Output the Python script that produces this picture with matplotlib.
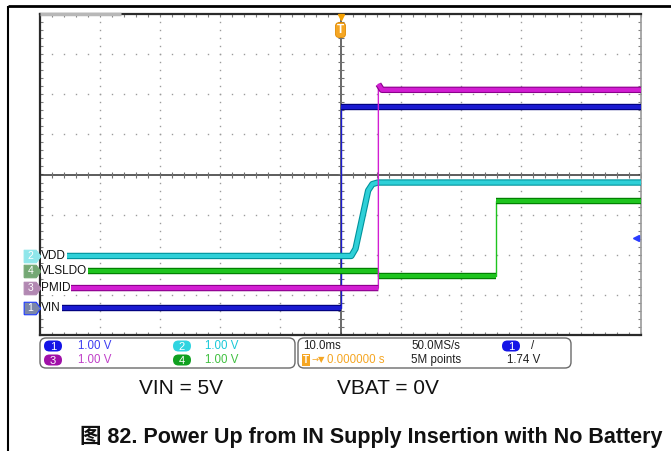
import numpy as np
import matplotlib
matplotlib.use("Agg")
import matplotlib.pyplot as plt
from matplotlib import transforms
from matplotlib.patches import FancyBboxPatch

plt.rcParams['font.family'] = ['Liberation Sans', 'Noto Sans CJK SC', 'DejaVu Sans']

# Scope setup: 10 ms/div horizontally, 1 V/div vertically, levels in divisions
time_range = (-50, 50)   # ms
div_range = (-4, 4)

# Traces (time in ms, level in divisions from screen centre)
t_vin = [-46.3, 0.0, 0.0, 50.0]
v_vin = [-3.33, -3.33, 1.68, 1.68]

t_pmid = [-45.3, 6.3, 6.3, 6.9, 50.0]
v_pmid = [-2.83, -2.83, 2.25, 2.11, 2.11]

t_vdd = [-46.3, 1.8, 2.5, 4.6, 5.3, 6.2, 50.0]
v_vdd = [-2.03, -2.03, -1.85, -0.40, -0.24, -0.20, -0.20]

t_vlsldo = [-43.5, 6.3, 6.3, 25.8, 25.8, 50.0]
v_vlsldo = [-2.40, -2.40, -2.53, -2.53, -0.66, -0.66]

channels = ['1', '2', '3', '4']
ch_labels = ['VIN', 'VDD', 'PMID', 'VLSLDO']
ch_scale = ['1.00 V', '1.00 V', '1.00 V', '1.00 V']
trig_level = 1.74  # V on ch1

colors = {'1': ('#1a1ad0', '#00007a'), '2': ('#2fd0d8', '#00939c'),
          '3': ('#d21ed2', '#8c008c'), '4': ('#1ec41e', '#007a00')}

fig = plt.figure(figsize=(6.71, 4.51), dpi=100)

# overlay in pixel coordinates
ov = fig.add_axes([0, 0, 1, 1])
ov.set_xlim(0, 671)
ov.set_ylim(451, 0)
ov.axis('off')

ax = fig.add_axes([40 / 671, 1 - 335 / 451, 601 / 671, 321 / 451])
ax.set_xlim(*time_range)
ax.set_ylim(*div_range)

# graticule dots
gcol = '#9c9c9c'
for xm in np.arange(-40, 41, 10):
    if xm == 0:
        continue
    yy = np.arange(-4, 4.01, 0.2)
    ax.plot(np.full_like(yy, xm), yy, ls='none', marker='s', ms=1.0, mew=0, color=gcol, zorder=1)
for ym in np.arange(-3, 4, 1):
    if ym == 0:
        continue
    xx = np.arange(-50, 50.01, 2)
    ax.plot(xx, np.full_like(xx, ym), ls='none', marker='s', ms=1.0, mew=0, color=gcol, zorder=1)

# centre axes with tick marks
ax.axhline(0, color='#303030', lw=1.1, zorder=2)
ax.axvline(0, color='#404040', lw=1.1, zorder=2)
xx = np.arange(-50, 50.01, 2)
ax.plot(xx, np.zeros_like(xx), ls='none', marker='|', ms=4, mew=0.8, color='#707070', zorder=2)
yy = np.arange(-4, 4.01, 0.2)
ax.plot(np.zeros_like(yy), yy, ls='none', marker='_', ms=4, mew=0.8, color='#707070', zorder=2)

# frame ticks
ax.set_xticks(np.arange(-50, 50.01, 2))
ax.set_yticks(np.arange(-4, 4.01, 0.2))
ax.tick_params(direction='in', length=2.5, width=0.8, color='#808080',
               top=True, right=True, labelbottom=False, labelleft=False)
for side in ['left', 'bottom', 'top']:
    ax.spines[side].set_color('#2a2a2a')
    ax.spines[side].set_linewidth(1.6)
ax.spines['right'].set_color('#9a9a9a')
ax.spines['right'].set_linewidth(1.2)
# record view bar at top-left
ax.plot([0, 0.135], [1, 1], transform=ax.transAxes, color='#b8b8b8', lw=2.5,
        clip_on=False, zorder=6, solid_capstyle='butt')


def draw_trace(t, v, ch, z):
    color, edge = colors[ch]
    t = np.asarray(t, float)
    v = np.asarray(v, float)
    ax.plot(t, v, color=color, lw=1.0, zorder=z)
    tt, vv = [], []
    for i in range(len(t)):
        tt.append(t[i])
        vv.append(v[i])
        if i < len(t) - 1 and t[i + 1] == t[i]:
            tt.append(np.nan)
            vv.append(np.nan)
    ax.plot(tt, vv, color=edge, lw=4.6, zorder=z + 0.1, solid_capstyle='butt')
    ax.plot(tt, vv, color=color, lw=3.0, zorder=z + 0.2, solid_capstyle='butt')


draw_trace(t_vin, v_vin, '1', 4)
draw_trace(t_vlsldo, v_vlsldo, '4', 5)
draw_trace(t_vdd, v_vdd, '2', 6)
draw_trace(t_pmid, v_pmid, '3', 7)

# channel markers and labels at left
blend = transforms.blended_transform_factory(ax.transAxes, ax.transData)
marker_verts = [(-1, -0.75), (0.45, -0.75), (1, 0), (0.45, 0.75), (-1, 0.75), (-1, -0.75)]
marker_fill = {'1': ('#7b86a8', '#1f3cff'), '2': ('#8fe6ea', '#8fe6ea'),
               '3': ('#b288b2', '#b288b2'), '4': ('#74a874', '#74a874')}
ch_level = {'1': v_vin[0], '2': v_vdd[0], '3': v_pmid[0], '4': v_vlsldo[0]}
for ch, lab in zip(channels, ch_labels):
    lv = ch_level[ch]
    fc, ec = marker_fill[ch]
    ax.plot([-0.0135], [lv], transform=blend, marker=marker_verts, ms=12,
            mfc=fc, mec=ec, mew=0.8, clip_on=False, zorder=8)
    ax.text(-0.016, lv, ch, transform=blend, ha='center', va='center',
            fontsize=7.5, color='white', zorder=9, clip_on=False)
    ax.text(0.002, lv, lab, transform=blend, ha='left', va='center',
            fontsize=8.5, color='#101010', zorder=9,
            bbox=dict(boxstyle='square,pad=0.05', fc='white', ec='none'))

# trigger position marker
ax.plot([0], [3.93], marker='v', ms=5, color='#f5a000', clip_on=False, zorder=9)
ax.text(0, 3.6, 'T', ha='center', va='center', fontsize=8.5, color='white',
        fontweight='bold', zorder=9,
        bbox=dict(boxstyle='round,pad=0.12,rounding_size=0.3', fc='#f5a623', ec='#e08a00', lw=0.6))
# trigger level marker on right
ax.plot([0.992], [v_vin[0] + trig_level], transform=blend, marker='<', ms=5,
        color='#2a3cff', clip_on=False, zorder=9)

# outer frame lines
ov.plot([8, 671], [6, 6], color='black', lw=2, solid_capstyle='butt')
ov.plot([8, 8], [6, 451], color='black', lw=1.5, solid_capstyle='butt')

# info boxes
for x0, x1 in [(40, 295), (298, 571)]:
    ov.add_patch(FancyBboxPatch((x0, 338), x1 - x0, 30,
                                boxstyle='round,pad=0,rounding_size=6',
                                fc='white', ec='#6a6a6a', lw=1.0))


def badge(x, y, num, fc):
    ov.add_patch(FancyBboxPatch((x - 9, y - 5.5), 18, 11,
                                boxstyle='round,pad=0,rounding_size=5.5',
                                fc=fc, ec='none', zorder=3))
    ov.text(x, y + 0.5, num, ha='center', va='center', fontsize=8, color='white', zorder=4)


row1, row2 = 346, 360
fs = 8.3
badge(53, row1, '1', '#1414e6')
ov.text(78, row1, ch_scale[0], va='center', fontsize=fs, color='#3c3cf0')
badge(182, row1, '2', '#30d4e0')
ov.text(205, row1, ch_scale[1], va='center', fontsize=fs, color='#18c8d8')
badge(53, row2, '3', '#a010a8')
ov.text(78, row2, ch_scale[2], va='center', fontsize=fs, color='#c040c8')
badge(182, row2, '4', '#10a020')
ov.text(205, row2, ch_scale[3], va='center', fontsize=fs, color='#40c040')

ov.text(303, row1, '10.0ms', va='center', fontsize=fs, color='#202020')
ov.text(411, row1, '50.0MS/s', va='center', fontsize=fs, color='#202020')
badge(511, row1, '1', '#1414e6')
ov.text(531, row1, '/', va='center', fontsize=fs, color='#202020')
ov.text(303, row2, 'T', va='center', fontsize=7, color='white', fontweight='bold',
        bbox=dict(boxstyle='square,pad=0.1', fc='#f5a623', ec='none'))
ov.text(311, row2, '\u2192\u25bc', va='center', fontsize=6, color='#f5a623',
        family=['DejaVu Sans'])
ov.text(327, row2, '0.000000 s', va='center', fontsize=fs, color='#f5a623')
ov.text(411, row2, '5M points', va='center', fontsize=fs, color='#202020')
ov.text(507, row2, '%.2f V' % trig_level, va='center', fontsize=fs, color='#202020')

# condition annotations and caption
ov.text(181, 388, 'VIN = 5V', ha='center', va='center', fontsize=15, color='#111111')
ov.text(388, 388, 'VBAT = 0V', ha='center', va='center', fontsize=15, color='#111111')
ov.text(662, 437, '\u56fe 82. Power Up from IN Supply Insertion with No Battery',
        ha='right', va='center', fontsize=15.5, fontweight='bold', color='#111111')

fig.savefig('out.png', dpi=100)
